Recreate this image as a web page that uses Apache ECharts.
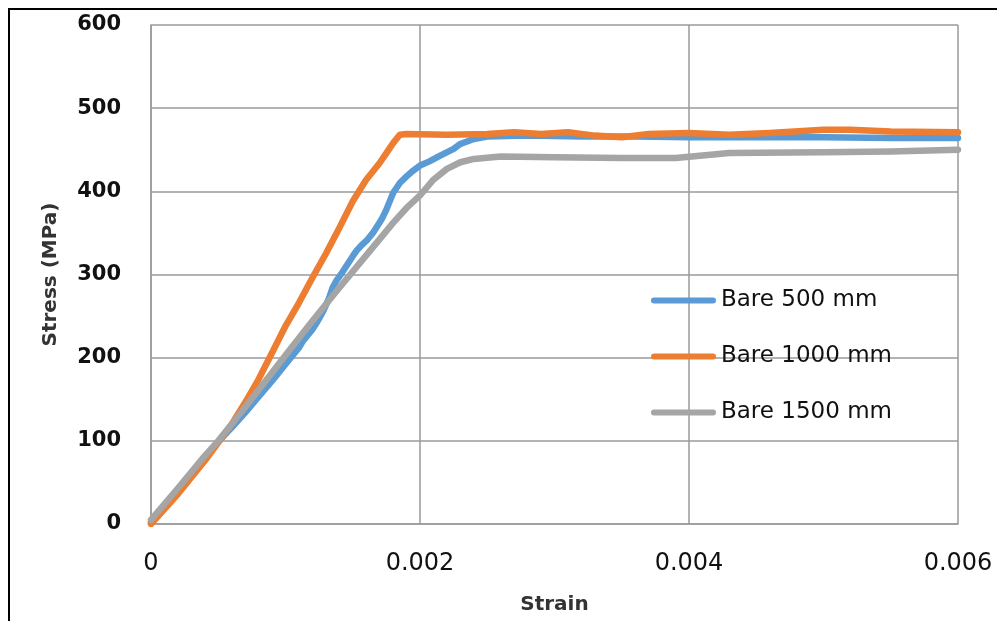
<!DOCTYPE html>
<html>
<head>
<meta charset="utf-8">
<script src="https://cdn.jsdelivr.net/npm/echarts@6/dist/echarts.min.js"></script>
<style>
  html, body { margin: 0; padding: 0; background: #fff; }
  #chart { width: 997px; height: 621px; }
</style>
</head>
<body>
<div id="chart"></div>
<script>
// Stress-strain curves of bare bars of three lengths
const seriesNames = ['Bare 500 mm', 'Bare 1000 mm', 'Bare 1500 mm'];

const strain500 = [0, 0.0002, 0.0004, 0.0005, 0.0006, 0.0007, 0.0008, 0.0009, 0.0010, 0.0011,
  0.00113, 0.0012, 0.00124, 0.00128, 0.00132, 0.00135, 0.00138, 0.00142, 0.00146, 0.0015,
  0.00153, 0.00157, 0.00161, 0.00165, 0.00169, 0.00172, 0.00175, 0.00178, 0.0018, 0.00185,
  0.0019, 0.00195, 0.002, 0.00207, 0.00215, 0.00225, 0.0023, 0.0024, 0.0025, 0.0028,
  0.0032, 0.0036, 0.004, 0.0045, 0.005, 0.0055, 0.006];
const stress500 = [2, 40, 80, 99, 116, 134, 153, 172, 192, 212,
  220, 234, 244, 256, 270, 284, 293, 302, 312, 322,
  329, 336, 342, 350, 360, 368, 378, 390, 398, 410,
  418, 425, 431, 436, 443, 451, 457, 463, 466, 467,
  466, 466, 465, 465, 465, 464, 464];

const strain1000 = [0, 0.0002, 0.0004, 0.0005, 0.0006, 0.0007, 0.0008, 0.0009, 0.001, 0.0011,
  0.0012, 0.0013, 0.0014, 0.0015, 0.0016, 0.0017, 0.00175, 0.0018, 0.00185, 0.0019,
  0.0022, 0.0025, 0.0027, 0.0029, 0.0031, 0.0033, 0.0035, 0.0037, 0.004, 0.0043,
  0.0046, 0.005, 0.0052, 0.0055, 0.006];
const stress1000 = [0, 36, 76, 98, 120, 146, 174, 206, 238, 266,
  296, 325, 356, 388, 414, 434, 446, 458, 468, 469,
  468, 469, 471, 469, 471, 467, 465, 469, 470, 468,
  470, 474, 474, 472, 471];

const strain1500 = [0, 0.0002, 0.0004, 0.0005, 0.0006, 0.0008, 0.001, 0.0012, 0.0014, 0.0016,
  0.0018, 0.0019, 0.002, 0.0021, 0.0022, 0.0023, 0.0024, 0.0026, 0.003, 0.0035,
  0.0039, 0.0041, 0.0043, 0.005, 0.0055, 0.006];
const stress1500 = [5, 43, 82, 100, 120, 161, 203, 244, 284, 323,
  362, 380, 395, 414, 427, 435, 439, 442, 441, 440,
  440, 443, 446, 447, 448, 450];

const xTickLabels = ['0', '0.002', '0.004', '0.006'];
const yTickLabels = ['0', '100', '200', '300', '400', '500', '600'];

const colors = ['#5B9BD5', '#ED7D31', '#A5A5A5'];

function pairs(xs, ys) {
  return xs.map((x, i) => [x, ys[i]]);
}

const curves = [
  pairs(strain500, stress500),
  pairs(strain1000, stress1000),
  pairs(strain1500, stress1500)
];

const gridColor = '#9a9a9a';
const legendIcon = 'path://M3,0 L62,0 A3,3 0 0 1 62,6 L3,6 A3,3 0 0 1 3,0 Z';

const chart = echarts.init(document.getElementById('chart'), null, { renderer: 'canvas' });

chart.setOption({
  animation: false,
  backgroundColor: '#ffffff',
  color: colors,
  grid: { left: 151, right: 39, top: 25, bottom: 97 },
  graphic: [{
    type: 'rect',
    shape: { x: 9, y: 9, width: 1200, height: 800 },
    style: { fill: 'none', stroke: '#000', lineWidth: 2 },
    silent: true,
    z: 100
  }],
  legend: {
    orient: 'vertical',
    left: 646,
    top: 282,
    itemWidth: 65,
    itemHeight: 7,
    itemGap: 29,
    icon: legendIcon,
    data: seriesNames,
    textStyle: {
      fontFamily: 'DejaVu Sans',
      fontSize: 23,
      color: '#111',
      lineHeight: 27
    }
  },
  xAxis: {
    type: 'value',
    min: 0,
    max: 0.006,
    interval: 0.002,
    name: 'Strain',
    nameLocation: 'middle',
    nameGap: 71,
    nameTextStyle: { fontFamily: 'DejaVu Sans', fontWeight: 'bold', fontSize: 20, color: '#333' },
    axisLine: { show: true, lineStyle: { color: gridColor, width: 1.5 } },
    axisTick: { show: false },
    splitLine: { show: true, lineStyle: { color: gridColor, width: 1.5 } },
    axisLabel: {
      margin: 28,
      fontFamily: 'DejaVu Sans',
      fontSize: 24,
      color: '#111',
      formatter: (v) => xTickLabels[Math.round(v / 0.002)]
    }
  },
  yAxis: {
    type: 'value',
    min: 0,
    max: 600,
    interval: 100,
    name: 'Stress (MPa)',
    nameLocation: 'middle',
    nameGap: 90,
    nameTextStyle: { fontFamily: 'DejaVu Sans', fontWeight: 'bold', fontSize: 20, color: '#333' },
    axisLine: { show: true, lineStyle: { color: gridColor, width: 1.5 } },
    axisTick: { show: false },
    splitLine: { show: true, lineStyle: { color: gridColor, width: 1.5 } },
    axisLabel: {
      margin: 30,
      fontFamily: 'DejaVu Sans',
      fontWeight: 'bold',
      fontSize: 21,
      color: '#111',
      formatter: (v) => yTickLabels[Math.round(v / 100)]
    }
  },
  series: curves.map((d, i) => ({
    name: seriesNames[i],
    type: 'line',
    data: d,
    showSymbol: false,
    symbol: 'none',
    smooth: false,
    lineStyle: { width: 6.5, color: colors[i], cap: 'round', join: 'round' },
    z: 2 + i
  }))
});
</script>
</body>
</html>
